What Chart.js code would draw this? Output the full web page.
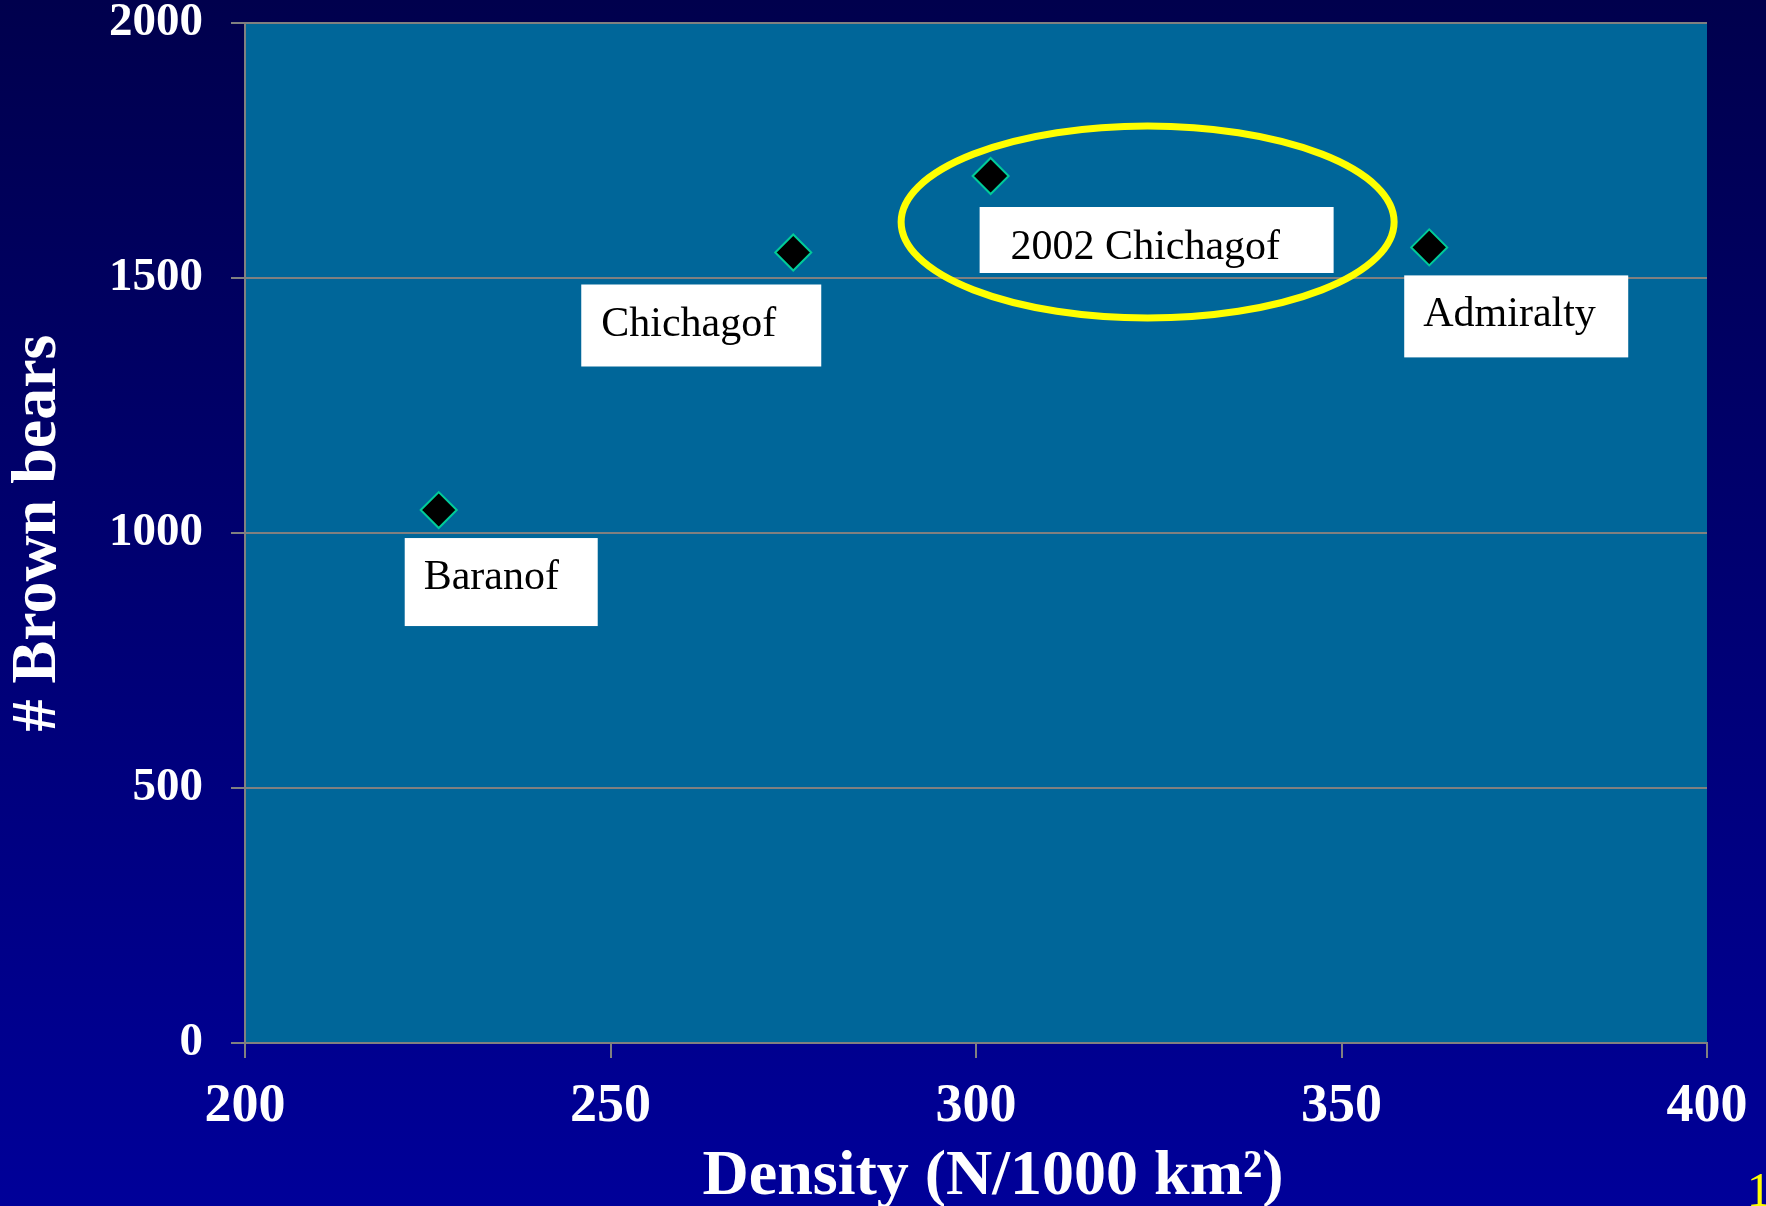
<!DOCTYPE html>
<html>
<head>
<meta charset="utf-8">
<script src="https://cdn.jsdelivr.net/npm/chart.js@4.4.1/dist/chart.umd.min.js"></script>
<style>
  html, body { margin: 0; padding: 0; background: #000066; }
  #wrap { width: 1766px; height: 1206px; }
</style>
</head>
<body>
<div id="wrap"><canvas id="grafico" width="1766" height="1206"></canvas></div>
<script>
// datos
const sitios = ['Baranof', 'Chichagof', '2002 Chichagof', 'Admiralty'];
const densidad = [226.5, 275, 302, 362];
const osos = [1045, 1550, 1700, 1560];
const ticksX = [200, 250, 300, 350, 400];
const ticksY = [0, 500, 1000, 1500, 2000];
const destacado = 2; // el punto rodeado con la elipse amarilla

// cajas blancas de las etiquetas, en px relativos al punto
const cajas = [
  { dx: -34, dy: 28, w: 193, h: 88, tx: 19, ty: 51 },
  { dx: -212, dy: 32, w: 240, h: 82, tx: 20, ty: 51 },
  { dx: -11, dy: 31, w: 354, h: 66, tx: 31, ty: 52 },
  { dx: -25, dy: 28, w: 224, h: 82, tx: 19, ty: 51 }
];
const elipse = { dx: 157, dy: 46, rx: 246.5, ry: 96, grosor: 7 };

const FUENTE = "'Liberation Serif', 'Times New Roman', serif";
const GRIS = '#808080';

// fondo degradado + area de trazado
const fondoPlugin = {
  id: 'fondo',
  beforeDraw(chart) {
    const { ctx, chartArea: a, width, height } = chart;
    ctx.save();
    const g = ctx.createLinearGradient(0, 0, 0, height);
    g.addColorStop(0, '#00004d');
    g.addColorStop(1, '#000099');
    ctx.fillStyle = g;
    ctx.fillRect(0, 0, width, height);
    ctx.fillStyle = '#006699';
    ctx.fillRect(a.left, a.top, a.right - a.left, a.bottom - a.top);
    ctx.restore();
  }
};

// etiquetas, elipse, titulo X y numero de diapositiva
const anotaciones = {
  id: 'anotaciones',
  afterDatasetsDraw(chart) {
    const { ctx } = chart;
    const xs = chart.scales.x, ys = chart.scales.y;
    ctx.save();
    sitios.forEach((nombre, i) => {
      const px = xs.getPixelForValue(densidad[i]);
      const py = ys.getPixelForValue(osos[i]);
      const c = cajas[i];
      ctx.fillStyle = '#ffffff';
      ctx.fillRect(px + c.dx, py + c.dy, c.w, c.h);
      ctx.fillStyle = '#000000';
      ctx.font = '42px ' + FUENTE;
      ctx.textAlign = 'left';
      ctx.textBaseline = 'alphabetic';
      ctx.fillText(nombre, px + c.dx + c.tx, py + c.dy + c.ty);
    });
    // elipse amarilla
    const hx = xs.getPixelForValue(densidad[destacado]);
    const hy = ys.getPixelForValue(osos[destacado]);
    ctx.beginPath();
    ctx.ellipse(hx + elipse.dx, hy + elipse.dy, elipse.rx, elipse.ry, 0, 0, Math.PI * 2);
    ctx.strokeStyle = '#ffff00';
    ctx.lineWidth = elipse.grosor;
    ctx.stroke();
    ctx.restore();
  },
  afterDraw(chart) {
    const { ctx, chartArea: a } = chart;
    ctx.save();
    ctx.fillStyle = '#ffffff';
    ctx.font = 'bold 64px ' + FUENTE;
    ctx.textAlign = 'center';
    ctx.textBaseline = 'alphabetic';
    ctx.fillText('Density (N/1000 km²)', (a.left + a.right) / 2 + 17, 1194);
    ctx.fillStyle = '#ffff00';
    ctx.font = '48px ' + FUENTE;
    ctx.textAlign = 'left';
    ctx.fillText('1', 1747, 1206);
    ctx.restore();
  }
};

new Chart(document.getElementById('grafico'), {
  type: 'scatter',
  data: {
    datasets: [{
      label: '# Brown bears',
      data: densidad.map((x, i) => ({ x: x, y: osos[i] })),
      pointStyle: 'rectRot',
      pointRadius: 18,
      pointHoverRadius: 18,
      backgroundColor: '#000000',
      borderColor: '#00cc99',
      borderWidth: 2
    }]
  },
  options: {
    responsive: false,
    animation: false,
    layout: { padding: { top: 23, right: 59, left: 0, bottom: 0 } },
    plugins: { legend: { display: false }, tooltip: { enabled: false } },
    scales: {
      x: {
        type: 'linear',
        min: 200, max: 400,
        afterBuildTicks: s => { s.ticks = ticksX.map(v => ({ value: v })); },
        afterFit: s => { s.height = 163; s.paddingLeft = 0; s.paddingRight = 0; },
        grid: { drawOnChartArea: false, drawTicks: true, tickLength: 15, color: GRIS, lineWidth: 2 },
        border: { display: true, color: GRIS, width: 2 },
        ticks: {
          color: '#ffffff', padding: 17, maxRotation: 0,
          callback: v => String(v),
          font: { family: FUENTE, size: 54, weight: 'bold' }
        },
        title: { display: false }
      },
      y: {
        min: 0, max: 2000,
        afterBuildTicks: s => { s.ticks = ticksY.map(v => ({ value: v })); },
        afterFit: s => { s.width = 245; s.paddingTop = 0; s.paddingBottom = 0; },
        grid: { drawTicks: true, tickLength: 14, color: GRIS, lineWidth: 2 },
        border: { display: true, color: GRIS, width: 2 },
        ticks: {
          color: '#ffffff', padding: 28,
          callback: v => String(v),
          font: { family: FUENTE, size: 47, weight: 'bold', lineHeight: 0.9 }
        },
        title: {
          display: true, text: '# Brown bears', color: '#ffffff', padding: 0,
          font: { family: FUENTE, size: 64, weight: 'bold', lineHeight: 1.2 }
        }
      }
    }
  },
  plugins: [fondoPlugin, anotaciones]
});
</script>
</body>
</html>
